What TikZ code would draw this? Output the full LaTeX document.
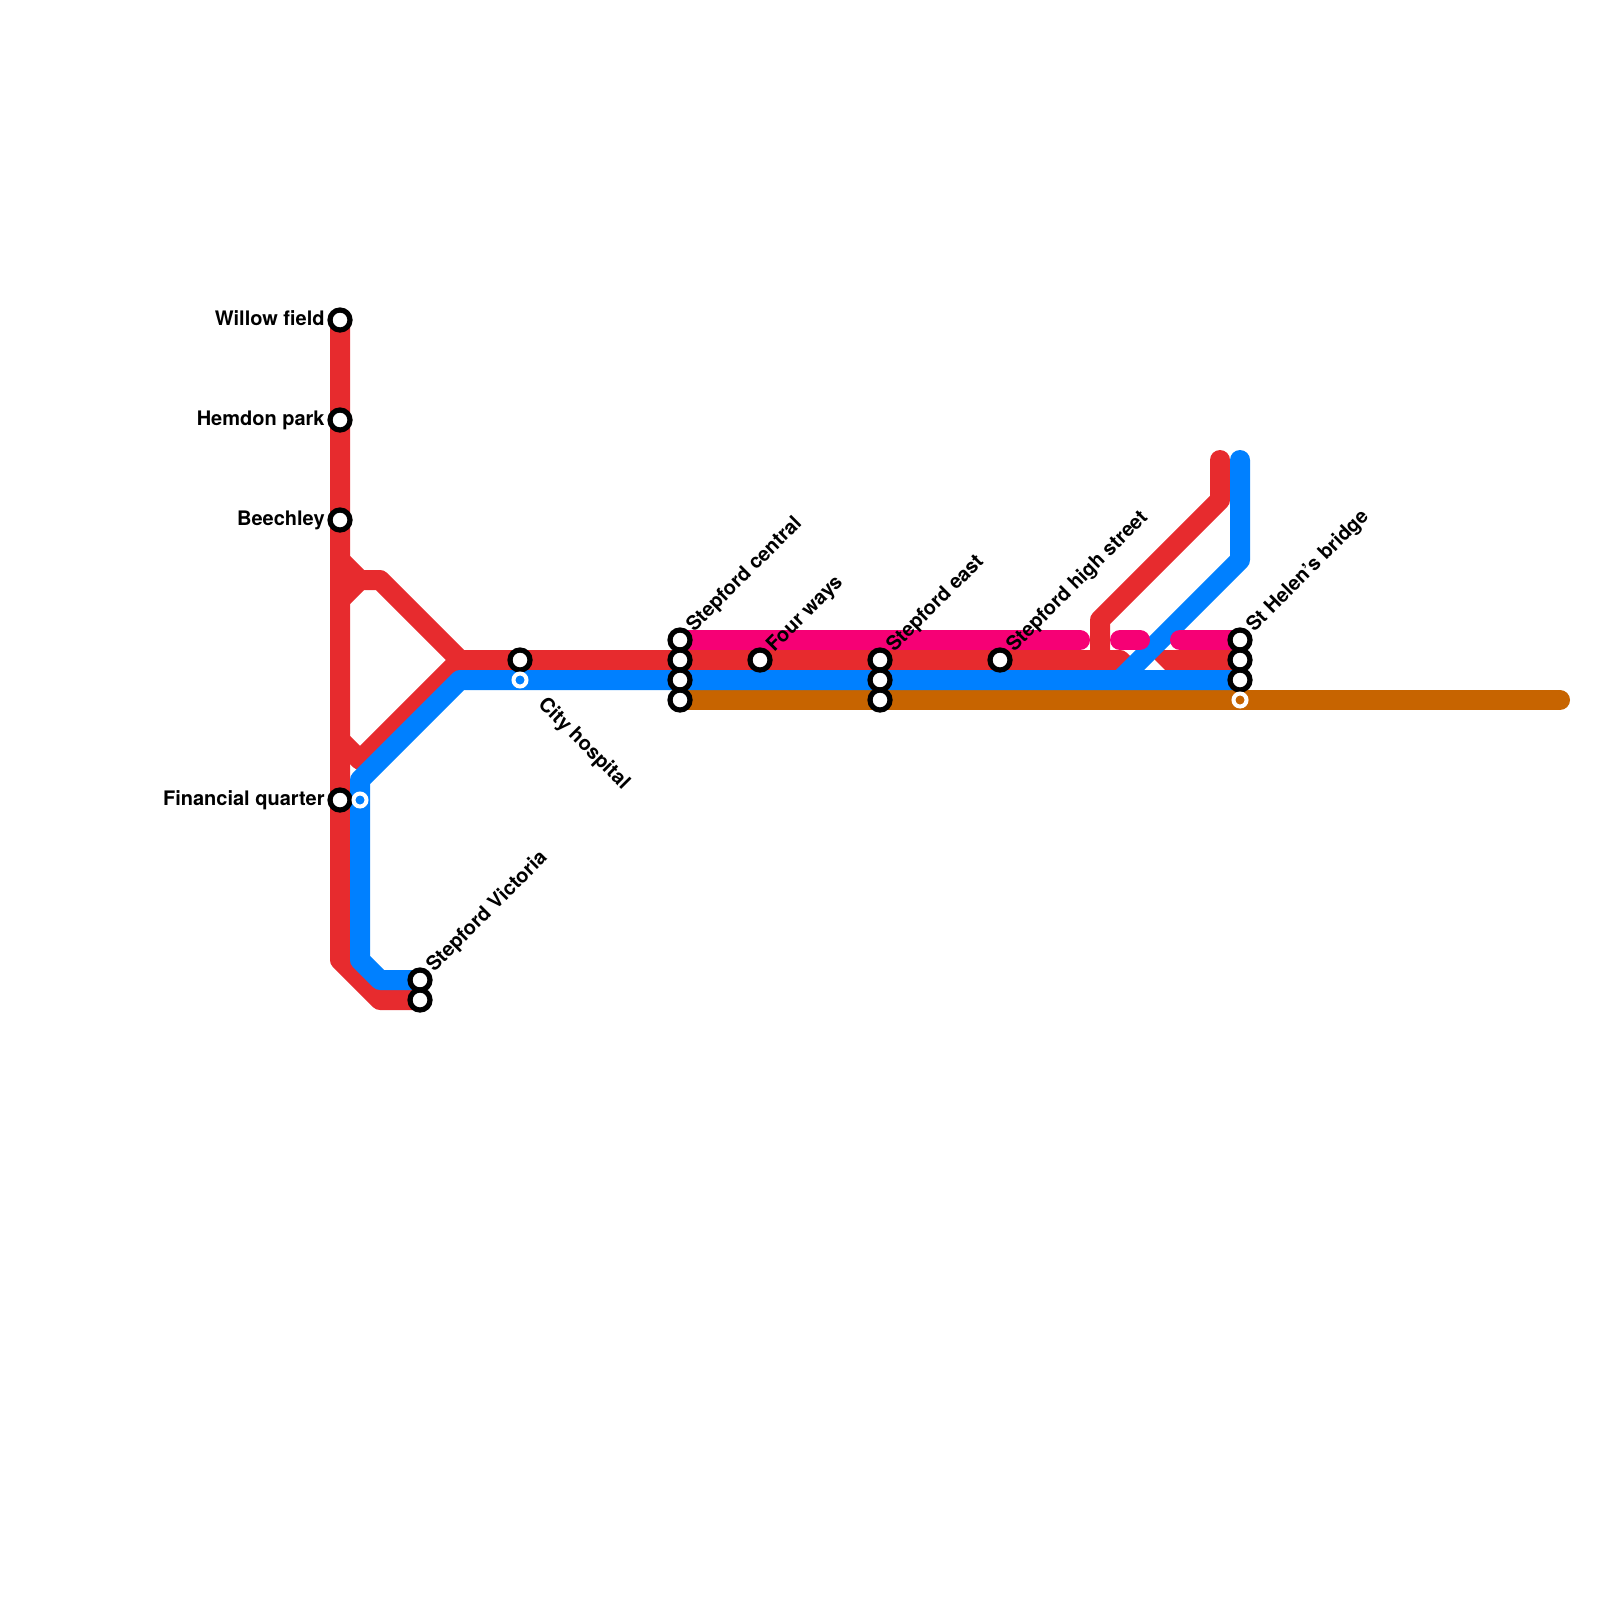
\documentclass[tikz,border=0pt]{standalone}
\usepackage{fontspec}
\setmainfont{TeX Gyre Heros}
\definecolor{redline}{HTML}{E72B2E}
\definecolor{blueline}{HTML}{0080FF}
\definecolor{pinkline}{HTML}{F60075}
\definecolor{brownline}{HTML}{C76400}
\tikzset{
  metro/.style={line width=10pt,line cap=round,line join=round},
  stn/.style={circle,draw=black,fill=white,line width=2.6pt,minimum size=10pt,inner sep=0pt},
  halt/.style={circle,draw=white,line width=2pt,minimum size=6.5pt,inner sep=0pt},
  lab/.style={font=\bfseries\fontsize{10pt}{11pt}\selectfont,inner sep=0pt,text=black},
  labl/.style={lab,anchor=base east},
  labr/.style={lab,anchor=base west,rotate=45},
  labd/.style={lab,anchor=base west,rotate=-45}
}
\begin{document}
\begin{tikzpicture}[x=0.5pt,y=-0.5pt]
\useasboundingbox (0,0) rectangle (1600,1600);
% line vertices
\coordinate (willow) at (340,320);
\coordinate (hemdon) at (340,420);
\coordinate (beech) at (340,520);
\coordinate (fin) at (340,800);
\coordinate (finb) at (360,800);
\coordinate (victb) at (420,980);
\coordinate (victr) at (420,1000);
\coordinate (cityr) at (520,660);
\coordinate (cityb) at (520,680);
\coordinate (scp) at (680,640);
\coordinate (scr) at (680,660);
\coordinate (scb) at (680,680);
\coordinate (scn) at (680,700);
\coordinate (four) at (760,660);
\coordinate (ser) at (880,660);
\coordinate (seb) at (880,680);
\coordinate (sen) at (880,700);
\coordinate (high) at (1000,660);
\coordinate (shp) at (1240,640);
\coordinate (shr) at (1240,660);
\coordinate (shb) at (1240,680);
\coordinate (shn) at (1240,700);
\coordinate (r1) at (340,960);
\coordinate (r2) at (380,1000);
\coordinate (ra) at (340,560);
\coordinate (rb) at (360,580);
\coordinate (rc) at (340,600);
\coordinate (rd) at (380,580);
\coordinate (re) at (460,660);
\coordinate (rf) at (340,740);
\coordinate (rg) at (360,760);
\coordinate (rh) at (1120,660);
\coordinate (ri) at (1140,680);
\coordinate (rj) at (1100,660);
\coordinate (rk) at (1100,620);
\coordinate (rl) at (1220,500);
\coordinate (rm) at (1220,460);
\coordinate (b1) at (360,960);
\coordinate (b2) at (380,980);
\coordinate (b3) at (360,780);
\coordinate (b4) at (460,680);
\coordinate (b5) at (1120,680);
\coordinate (b6) at (1240,560);
\coordinate (b7) at (1240,460);
\coordinate (p1) at (1080,640);
\coordinate (p2) at (1120,640);
\coordinate (p3) at (1140,640);
\coordinate (p4) at (1180,640);
\coordinate (nend) at (1560,700);
% lines
\draw[metro,brownline] (scn) -- (nend);
\draw[metro,redline] (willow) -- (r1) -- (r2) -- (victr);
\draw[metro,redline] (ra) -- (rb) -- (rc);
\draw[metro,redline] (rb) -- (rd) -- (re) -- (rg) -- (rf);
\draw[metro,redline] (re) -- (rh) -- (ri);
\draw[metro,redline] (rj) -- (rk) -- (rl) -- (rm);
\fill[redline] (1240,650) -- (1150,650) -- (1155,660) -- (1165,670) -- (1240,670) -- cycle;
\draw[metro,blueline] (victb) -- (b2) -- (b1) -- (b3) -- (b4) -- (shb);
\draw[metro,blueline] (b5) -- (b6) -- (b7);
\draw[metro,pinkline] (scp) -- (p1);
\draw[metro,pinkline] (p2) -- (p3);
\draw[metro,pinkline] (p4) -- (shp);
% stations
\foreach \s in {willow,hemdon,beech,fin,victb,victr,cityr,scp,scr,scb,scn,four,ser,seb,sen,high,shp,shr,shb}
  \node[stn] (n\s) at (\s) {};
\node[halt,fill=blueline] (ncityb) at (cityb) {};
\node[halt,fill=blueline] (nfinb) at (finb) {};
\node[halt,fill=brownline] (nshn) at (shn) {};
% labels
\node[labl] (lwillow) at (325,325) {Willow field};
\node[labl] (lhemdon) at (325,425) {Hemdon park};
\node[labl] (lbeech) at (325,525) {Beechley};
\node[labl] (lfin) at (325,805) {Financial quarter};
\node[labr] (lvict) at (434,973) {Stepford Victoria};
\node[labd] (lcity) at (537,705) {City hospital};
\node[labr] (lsc) at (694,633) {Stepford central};
\node[labr] (lfour) at (774,653) {Four ways};
\node[labr] (lse) at (894,653) {Stepford east};
\node[labr] (lhigh) at (1014,653) {Stepford high street};
\node[labr] (lsh) at (1254,633) {St Helen's bridge};
\end{tikzpicture}
\end{document}
